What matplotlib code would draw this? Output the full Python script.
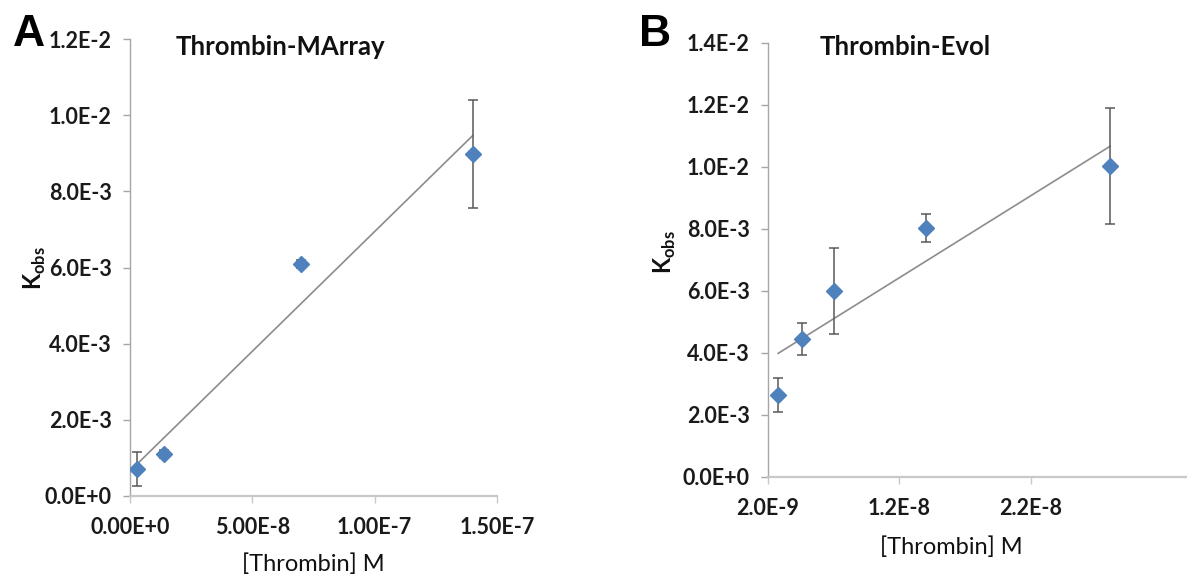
import numpy as np
import matplotlib
matplotlib.use("Agg")
import matplotlib.pyplot as plt
from matplotlib.ticker import FixedLocator

# Panel A: Thrombin-MArray
conc_a = [3.0e-9, 1.4e-8, 7.0e-8, 1.4e-7]
kobs_a = [0.71e-3, 1.11e-3, 6.09e-3, 8.99e-3]
err_a = [0.44e-3, 0.10e-3, 0.10e-3, 1.42e-3]
yticks_a = [0.0, 2.0e-3, 4.0e-3, 6.0e-3, 8.0e-3, 1.0e-2, 1.2e-2]
ylabels_a = ["0.0E+0", "2.0E-3", "4.0E-3", "6.0E-3", "8.0E-3", "1.0E-2", "1.2E-2"]
xticks_a = [0.0, 5.0e-8, 1.0e-7, 1.5e-7]
xlabels_a = ["0.00E+0", "5.00E-8", "1.00E-7", "1.50E-7"]

# Panel B: Thrombin-Evol
conc_b = [2.8e-9, 4.6e-9, 7.0e-9, 1.4e-8, 2.8e-8]
kobs_b = [2.64e-3, 4.44e-3, 6.00e-3, 8.03e-3, 10.03e-3]
err_b = [0.55e-3, 0.53e-3, 1.39e-3, 0.45e-3, 1.87e-3]
yticks_b = [0.0, 2.0e-3, 4.0e-3, 6.0e-3, 8.0e-3, 1.0e-2, 1.2e-2, 1.4e-2]
ylabels_b = ["0.0E+0", "2.0E-3", "4.0E-3", "6.0E-3", "8.0E-3", "1.0E-2", "1.2E-2", "1.4E-2"]
xticks_b = [2.0e-9, 1.2e-8, 2.2e-8]
xlabels_b = ["2.0E-9", "1.2E-8", "2.2E-8"]

W, H = 1187, 577
fig = plt.figure(figsize=(W / 100, H / 100), dpi=100)
fig.patch.set_facecolor("white")

FONT = "Lato"
MARK = "#4f81bd"
TREND = "#8c8c8c"
ERRC = "#595959"


def px_box(left, right, top, bottom):
    return [left / W, 1 - bottom / H, (right - left) / W, (bottom - top) / H]


def style_axes(ax, xticks, xlabels, yticks, ylabels):
    for side in ("top", "right"):
        ax.spines[side].set_visible(False)
    ax.spines["left"].set_color("#a6a6a6")
    ax.spines["bottom"].set_color("#c8c8c8")
    ax.spines["left"].set_linewidth(1.0)
    ax.spines["bottom"].set_linewidth(1.6)
    ax.xaxis.set_major_locator(FixedLocator(xticks))
    ax.yaxis.set_major_locator(FixedLocator(yticks))
    ax.set_xticklabels(xlabels, fontfamily=FONT, fontweight="bold", fontsize=15.5, color="#1a1a1a")
    ax.set_yticklabels(ylabels, fontfamily=FONT, fontweight="bold", fontsize=15.5, color="#1a1a1a")
    ax.tick_params(axis="y", direction="out", length=5, width=1, color="#a6a6a6", pad=8)
    ax.tick_params(axis="x", direction="out", length=5, width=1, color="#c8c8c8", pad=10)


def draw_panel(ax, x, y, e):
    x = np.asarray(x)
    y = np.asarray(y)
    slope, intercept = np.polyfit(x, y, 1)
    xs = np.array([x.min(), x.max()])
    ax.plot(xs, slope * xs + intercept, color=TREND, lw=1.2, zorder=2)
    ax.errorbar(x, y, yerr=e, fmt="none", ecolor=ERRC, elinewidth=1.1,
                capsize=3.5, capthick=1.1, zorder=3)
    ax.plot(x, y, linestyle="none", marker="D", markersize=8.5, color=MARK,
            markeredgecolor=MARK, zorder=4)


# Panel A
ax_a = fig.add_axes(px_box(130, 497, 39, 496))
ax_a.set_xlim(0.0, 1.5e-7)
ax_a.set_ylim(0.0, 1.2e-2)
draw_panel(ax_a, conc_a, kobs_a, err_a)
style_axes(ax_a, xticks_a, xlabels_a, yticks_a, ylabels_a)

# Panel B (x axis runs past the right edge)
ax_b = fig.add_axes(px_box(767.7, 767.7 + 3.2 * 131.7, 42.7, 476.7))
ax_b.set_xlim(2.0e-9, 3.4e-8)
ax_b.set_ylim(0.0, 1.4e-2)
draw_panel(ax_b, conc_b, kobs_b, err_b)
style_axes(ax_b, xticks_b, xlabels_b, yticks_b, ylabels_b)


def ftext(xp, yp, s, **kw):
    fig.text(xp / W, 1 - yp / H, s, **kw)


# Titles
ftext(280, 47, "Thrombin-MArray", fontfamily=FONT, fontweight="bold", fontsize=18.5,
      ha="center", va="center", color="#111111")
ftext(905, 47, "Thrombin-Evol", fontfamily=FONT, fontweight="bold", fontsize=18.5,
      ha="center", va="center", color="#111111")

# Panel letters
ftext(29, 35, "A", fontfamily="Liberation Sans", fontweight="bold", fontsize=32,
      ha="center", va="center", color="black")
ftext(655, 35, "B", fontfamily="Liberation Sans", fontweight="bold", fontsize=32,
      ha="center", va="center", color="black")

# Axis titles
ftext(313, 564, "[Thrombin] M", fontfamily=FONT, fontsize=17,
      ha="center", va="center", color="#111111")
ftext(951, 547, "[Thrombin] M", fontfamily=FONT, fontsize=17,
      ha="center", va="center", color="#111111")
ftext(35, 268, r"K$_{\mathregular{obs}}$", fontfamily=FONT, fontweight="bold", fontsize=17,
      ha="center", va="center", rotation=90, color="#111111")
ftext(665, 252, r"K$_{\mathregular{obs}}$", fontfamily=FONT, fontweight="bold", fontsize=17,
      ha="center", va="center", rotation=90, color="#111111")

fig.savefig("out.png", dpi=100, facecolor="white")
